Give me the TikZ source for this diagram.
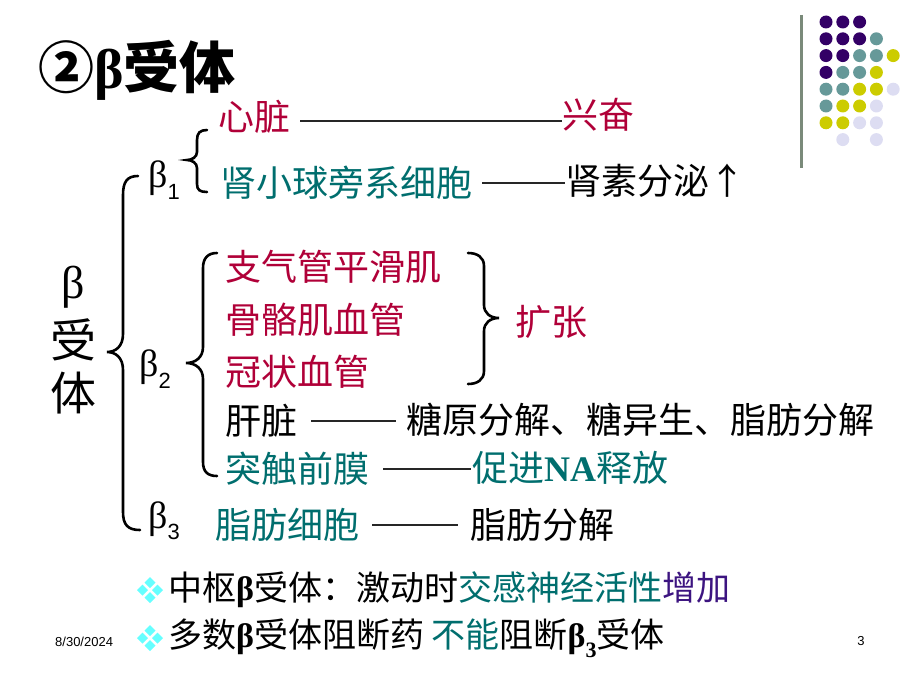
\documentclass[tikz,border=0pt]{standalone}
\usepackage{fontspec}
\setmainfont{Noto Sans CJK SC}
\newfontfamily\grk{Liberation Serif}
\newfontfamily\arl{Liberation Sans}
\usepackage{xcolor}
\definecolor{sRed}{HTML}{B00038}
\definecolor{sTeal}{HTML}{006E6E}
\definecolor{sPurple}{HTML}{3C1480}
\definecolor{sCyan}{HTML}{66FFFF}
\definecolor{dPurple}{HTML}{330066}
\definecolor{dTeal}{HTML}{669999}
\definecolor{dYellow}{HTML}{CCCC00}
\definecolor{dLilac}{HTML}{DDDDF2}
\definecolor{ruleGray}{HTML}{7A8A7A}
\newcommand{\bsub}[1]{{\grk β}\raisebox{-0.3em}{\arl\fontsize{22}{22}\selectfont #1}}

\begin{document}
\begin{tikzpicture}[x=1pt,y=-1pt]
    \tikzset{
        txt/.style={anchor=west, inner sep=0pt, font=\fontsize{36}{40}\selectfont},
        redtxt/.style={txt, text=sRed},
        tealtxt/.style={txt, text=sTeal},
        link/.style={draw=black!85, line width=1.4pt},
        bracket/.style={line width=2.6pt, line cap=round},
        dot/.style={circle, inner sep=0pt, minimum size=13pt}
    }
    \useasboundingbox (0,0) rectangle (920,690);

    % corner decoration
    \draw[ruleGray, line width=3pt] (801,15) -- (801,168);
    \foreach \c/\r/\col in {0/0/dPurple,1/0/dPurple,2/0/dPurple,
        0/1/dPurple,1/1/dPurple,2/1/dPurple,3/1/dTeal,
        0/2/dPurple,1/2/dPurple,2/2/dTeal,3/2/dTeal,4/2/dYellow,
        0/3/dPurple,1/3/dTeal,2/3/dTeal,3/3/dYellow,
        0/4/dTeal,1/4/dTeal,2/4/dYellow,3/4/dYellow,4/4/dLilac,
        0/5/dTeal,1/5/dYellow,2/5/dYellow,3/5/dLilac,
        0/6/dYellow,1/6/dYellow,2/6/dLilac,3/6/dLilac,
        1/7/dLilac,3/7/dLilac}
        \node[dot, fill=\col] (d\c\r) at ({826+16.8*\c},{22+16.8*\r}) {};

    % title
    \node[txt, font=\bfseries\fontsize{56}{60}\selectfont] (title) at (38,70) {②{\grk\bfseries β}受体};

    % left column
    \node[font=\fontsize{46}{50}\selectfont, inner sep=0pt] (vb) at (73,287) {\grk β};
    \node[font=\fontsize{46}{50}\selectfont, inner sep=0pt] (vs) at (73,340) {受};
    \node[font=\fontsize{46}{50}\selectfont, inner sep=0pt] (vt) at (73,393) {体};

    \node[txt, font=\fontsize{38}{40}\selectfont] (b1) at (148,180) {\bsub{1}};
    \node[txt, font=\fontsize{38}{40}\selectfont] (b2) at (139,369) {\bsub{2}};
    \node[txt, font=\fontsize{38}{40}\selectfont] (b3) at (148,521) {\bsub{3}};

    % braces
    \draw[bracket] (138,176) .. controls (127,176) and (123,182) .. (123,195) -- (123,334)
        .. controls (123,346) and (116,352) .. (107,352) .. controls (116,352) and (123,358) .. (123,370)
        -- (123,512) .. controls (123,525) and (128,530) .. (140,530);
    \draw[bracket] (207,130) .. controls (200,130) and (197,133) .. (197,140) -- (197,152)
        .. controls (197,157) and (192,160) .. (187,160) .. controls (192,160) and (197,163) .. (197,168)
        -- (197,184) .. controls (197,190) and (200,192) .. (207,192);
    \draw[bracket] (217,253) .. controls (208,253) and (203,258) .. (203,268) -- (203,347)
        .. controls (203,357) and (196,363) .. (186,363) .. controls (196,363) and (203,369) .. (203,379)
        -- (203,462) .. controls (203,472) and (208,476) .. (217,476);
    \draw[bracket] (468,253) .. controls (477,253) and (484,257) .. (484,266) -- (484,305)
        .. controls (484,313) and (490,318) .. (499,318) .. controls (490,318) and (484,323) .. (484,331)
        -- (484,371) .. controls (484,380) and (477,384) .. (468,384);

    % beta 1
    \node[redtxt] (heart) at (218,117) {心脏};
    \node[redtxt] (excite) at (562,115) {兴奋};
    \node[tealtxt] (jg) at (220,183) {肾小球旁系细胞};
    \node[txt] (renin) at (565,181) {肾素分泌↑};
    \draw[link] ([xshift=10pt,yshift=-4pt]heart.east) -- ([yshift=-4pt]heart.east -| excite.west);
    \draw[link] ([xshift=10pt]jg.east) -- (jg.east -| renin.west);

    % beta 2
    \node[redtxt] (bronch) at (225,267) {支气管平滑肌};
    \node[redtxt] (skel) at (225,320) {骨骼肌血管};
    \node[redtxt] (coron) at (225,372) {冠状血管};
    \node[redtxt] (dilate) at (515,322) {扩张};
    \node[txt] (liver) at (225,421) {肝脏};
    \node[txt] (gly) at (406,420) {糖原分解、糖异生、脂肪分解};
    \node[tealtxt] (presyn) at (225,469) {突触前膜};
    \node[tealtxt] (narel) at (472,468) {促进{\grk\bfseries NA}释放};
    \draw[link] ([xshift=14pt]liver.east) -- ([xshift=-10pt]liver.east -| gly.west);
    \draw[link] ([xshift=14pt]presyn.east) -- ([xshift=-1pt]presyn.east -| narel.west);

    % beta 3
    \node[tealtxt] (fatc) at (215,525) {脂肪细胞};
    \node[txt] (lipo) at (470,525) {脂肪分解};
    \draw[link] ([xshift=13pt]fatc.east) -- ([xshift=-12pt]fatc.east -| lipo.west);

    % bullets
    \foreach \by [count=\i] in {590,638} {
        \foreach \dx/\dy in {0/-7.5,-7.5/0,7.5/0,0/7.5}
            \fill[sCyan] ({150+\dx},{\by+\dy-5.5}) -- ({150+\dx+5.5},{\by+\dy})
                -- ({150+\dx},{\by+\dy+5.5}) -- ({150+\dx-5.5},{\by+\dy}) -- cycle;
    }
    \node[txt, font=\fontsize{34}{38}\selectfont] (note1) at (168,590)
        {中枢{\grk\bfseries β}受体：激动时\textcolor{sTeal}{交感神经活性}\textcolor{sPurple}{增加}};
    \node[txt, font=\fontsize{34}{38}\selectfont] (note2) at (168,638)
        {多数{\grk\bfseries β}受体阻断药 \textcolor{sTeal}{不能}阻断{\grk\bfseries β}\raisebox{-0.3em}{\grk\bfseries\fontsize{22}{22}\selectfont 3}受体};

    % footer
    \node[anchor=west, inner sep=0pt, font=\arl\fontsize{13}{15}\selectfont] (date) at (55,642) {8/30/2024};
    \node[inner sep=0pt, font=\arl\fontsize{13}{15}\selectfont] (pageno) at (861,641) {3};
\end{tikzpicture}
\end{document}
